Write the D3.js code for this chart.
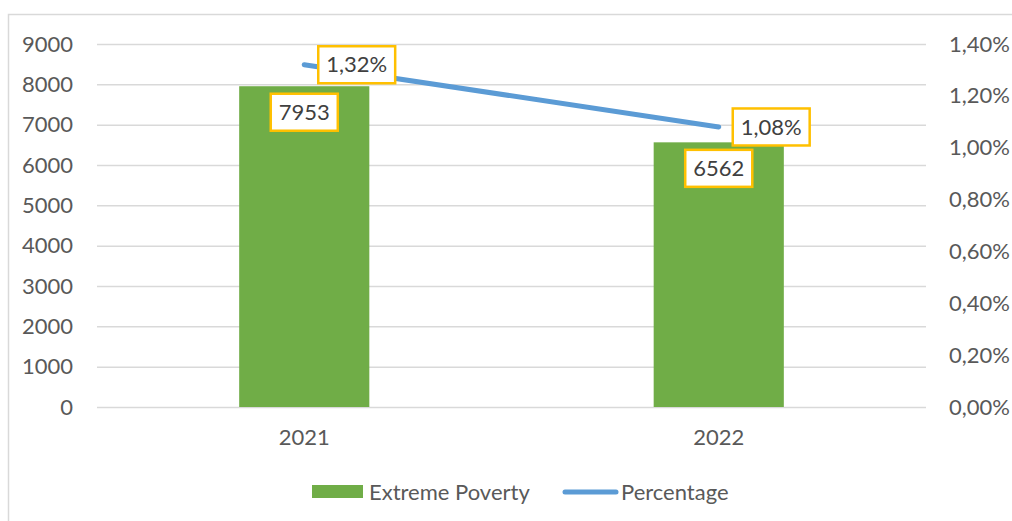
<!DOCTYPE html>
<html>
<head>
<meta charset="utf-8">
<script src="https://cdn.jsdelivr.net/npm/d3@7"></script>
<style>
  html, body { margin: 0; padding: 0; background: #fff; }
  svg { display: block; font-family: Lato, "Open Sans", sans-serif; }
</style>
</head>
<body>
<svg id="chart" width="1012" height="521"></svg>
<script>
const years = ['2021', '2022'];
const poverty = [7953, 6562];
const percentage = [1.32, 1.08];
const leftTicks = [0, 1000, 2000, 3000, 4000, 5000, 6000, 7000, 8000, 9000];
const rightTicks = [0, 0.2, 0.4, 0.6, 0.8, 1.0, 1.2, 1.4];

const textColor = '#595959';
const gridColor = '#d9d9d9';
const barColor = '#70ad47';
const lineColor = '#5b9bd5';
const labelBorder = '#ffc000';
const fontSize = 22;

const svg = d3.select('#chart');

const plot = { left: 97, right: 926, top: 44, bottom: 407 };

const scaleX = d3.scaleBand()
  .domain(years)
  .range([plot.left, plot.right])
  .padding(0);
const barWidth = scaleX.bandwidth() * 0.314;
const cx = d => scaleX(d) + scaleX.bandwidth() / 2;

const scaleY = d3.scaleLinear().domain([0, 9000]).range([plot.bottom, plot.top]);
const scaleY2 = d3.scaleLinear().domain([0, 1.4]).range([plot.bottom, plot.top]);

const fmtPct = v => v.toFixed(2).replace('.', ',') + '%';

// chart area border (cut by the picture edge)
svg.append('rect')
  .attr('x', 8.5).attr('y', 14.5)
  .attr('width', 1100).attr('height', 600)
  .attr('fill', 'none')
  .attr('stroke', gridColor)
  .attr('stroke-width', 1.5);

// grid + left axis
const yAxis = d3.axisLeft(scaleY)
  .tickValues(leftTicks)
  .tickSize(-(plot.right - plot.left))
  .tickPadding(24)
  .tickFormat(d3.format('d'));
const yAxisG = svg.append('g')
  .attr('transform', `translate(${plot.left},0)`)
  .call(yAxis);
yAxisG.select('.domain').remove();
yAxisG.selectAll('line').attr('stroke', gridColor).attr('stroke-width', 1.5);
yAxisG.selectAll('text')
  .attr('fill', textColor)
  .style('font-size', fontSize + 'px')
  .style('font-family', 'Lato, "Open Sans", sans-serif');

// right axis
const y2Axis = d3.axisRight(scaleY2)
  .tickValues(rightTicks)
  .tickSize(0)
  .tickPadding(23)
  .tickFormat(fmtPct);
const y2AxisG = svg.append('g')
  .attr('transform', `translate(${plot.right},0)`)
  .call(y2Axis);
y2AxisG.select('.domain').remove();
y2AxisG.selectAll('text')
  .attr('fill', textColor)
  .style('font-size', fontSize + 'px')
  .style('font-family', 'Lato, "Open Sans", sans-serif');

// bottom axis
const xAxis = d3.axisBottom(scaleX).tickSize(0).tickPadding(22);
const xAxisG = svg.append('g')
  .attr('transform', `translate(0,${plot.bottom})`)
  .call(xAxis);
xAxisG.select('.domain').remove();
xAxisG.selectAll('text')
  .attr('fill', textColor)
  .style('font-size', fontSize + 'px')
  .style('font-family', 'Lato, "Open Sans", sans-serif');

// bars
svg.append('g')
  .selectAll('rect')
  .data(poverty)
  .enter()
  .append('rect')
  .attr('x', (_, i) => cx(years[i]) - barWidth / 2)
  .attr('y', d => scaleY(d))
  .attr('width', barWidth)
  .attr('height', d => scaleY(0) - scaleY(d))
  .attr('fill', barColor);

// line
const line = d3.line()
  .x((_, i) => cx(years[i]))
  .y(d => scaleY2(d));
svg.append('path')
  .datum(percentage)
  .attr('d', line)
  .attr('fill', 'none')
  .attr('stroke', lineColor)
  .attr('stroke-width', 5)
  .attr('stroke-linecap', 'round');

// data labels
function label(g, text, x, y, anchor) {
  const t = g.append('text')
    .attr('x', x).attr('y', y)
    .attr('dy', '0.35em')
    .attr('text-anchor', anchor)
    .attr('fill', '#404040')
    .style('font-size', fontSize + 'px')
    .text(text);
  const bb = t.node().getBBox();
  g.insert('rect', 'text')
    .attr('x', bb.x - 8).attr('y', y - 18.5)
    .attr('width', bb.width + 16).attr('height', 37)
    .attr('fill', '#fff')
    .attr('stroke', labelBorder)
    .attr('stroke-width', 2.5);
}

const labels = svg.append('g');
poverty.forEach((v, i) => {
  const g = labels.append('g');
  label(g, String(v), cx(years[i]), scaleY(v) + 26, 'middle');
});
percentage.forEach((v, i) => {
  const g = labels.append('g');
  label(g, fmtPct(v), cx(years[i]) + 22, scaleY2(v), 'start');
});

// legend
const legend = svg.append('g');
legend.append('rect')
  .attr('x', 312).attr('y', 485)
  .attr('width', 51).attr('height', 13)
  .attr('fill', barColor);
legend.append('text')
  .attr('x', 369).attr('y', 492).attr('dy', '0.35em')
  .attr('fill', textColor)
  .style('font-size', fontSize + 'px')
  .text('Extreme Poverty');
legend.append('line')
  .attr('x1', 565).attr('x2', 616)
  .attr('y1', 492).attr('y2', 492)
  .attr('stroke', lineColor)
  .attr('stroke-width', 5)
  .attr('stroke-linecap', 'round');
legend.append('text')
  .attr('x', 621).attr('y', 492).attr('dy', '0.35em')
  .attr('fill', textColor)
  .style('font-size', fontSize + 'px')
  .text('Percentage');
</script>
</body>
</html>
